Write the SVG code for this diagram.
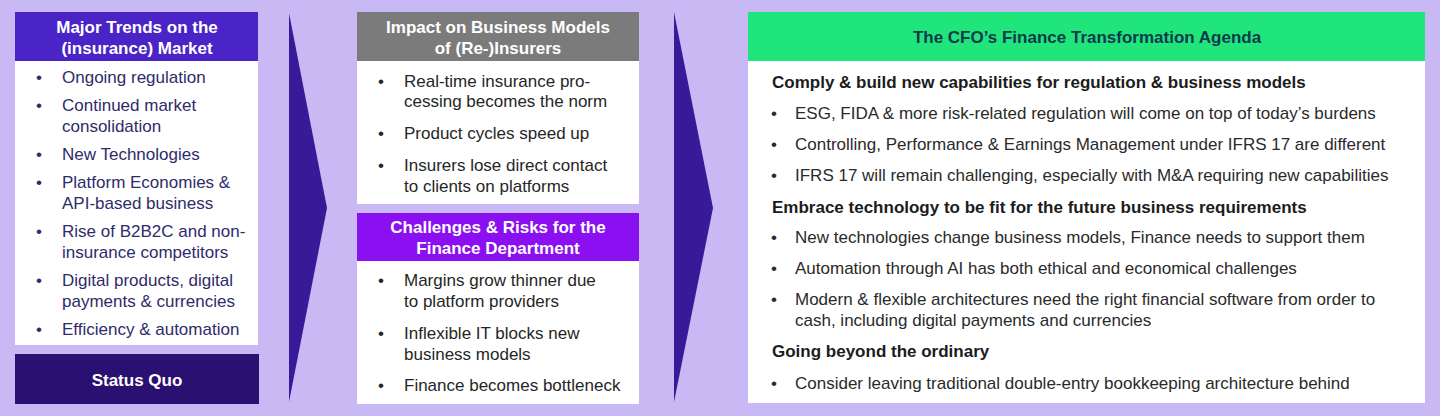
<svg xmlns="http://www.w3.org/2000/svg" width="1440" height="416" viewBox="0 0 1440 416">
<style>
text { font-family: "Liberation Sans", Arial, sans-serif; font-size: 17px; }
.hd { font-weight: bold; fill: #ffffff; text-anchor: middle; }
.lt { fill: #2f2b6b; }
.mt { fill: #262626; }
.rt { fill: #2a2a2a; }
.rh { fill: #1c1c1c; font-weight: bold; }
.body { fill: #ffffff; }
</style>
<rect x="0" y="0" width="1440" height="416" fill="#c8b9f4"/>

<g id="trends">
  <rect x="15" y="12" width="243" height="49" fill="#4a24c6"/>
  <text class="hd" x="137" y="32.5">Major Trends on the</text>
  <text class="hd" x="137" y="53.5">(insurance) Market</text>
  <rect class="body" x="15" y="61" width="243" height="284"/>
  <g class="lt">
    <text x="36" y="83">•</text><text x="62" y="83">Ongoing regulation</text>
    <text x="36" y="111">•</text><text x="62" y="111">Continued market</text>
    <text x="62" y="132">consolidation</text>
    <text x="36" y="160">•</text><text x="62" y="160">New Technologies</text>
    <text x="36" y="188">•</text><text x="62" y="188">Platform Economies &amp;</text>
    <text x="62" y="209">API-based business</text>
    <text x="36" y="237">•</text><text x="62" y="237">Rise of B2B2C and non-</text>
    <text x="62" y="258">insurance competitors</text>
    <text x="36" y="286">•</text><text x="62" y="286">Digital products, digital</text>
    <text x="62" y="307">payments &amp; currencies</text>
    <text x="36" y="335">•</text><text x="62" y="335">Efficiency &amp; automation</text>
  </g>
</g>

<g id="status-quo">
  <rect x="15" y="354" width="244" height="50" fill="#2a1070"/>
  <text class="hd" x="137" y="386">Status Quo</text>
</g>

<g id="impact">
  <rect x="357" y="12" width="282" height="49" fill="#7b7b7b"/>
  <text class="hd" x="498" y="32.5">Impact on Business Models</text>
  <text class="hd" x="498" y="53.5">of (Re-)Insurers</text>
  <rect class="body" x="357" y="61" width="282" height="143"/>
  <g class="mt">
    <text x="378" y="87">•</text><text x="404" y="87">Real-time insurance pro-</text>
    <text x="404" y="107">cessing becomes the norm</text>
    <text x="378" y="139">•</text><text x="404" y="139">Product cycles speed up</text>
    <text x="378" y="171">•</text><text x="404" y="171">Insurers lose direct contact</text>
    <text x="404" y="192">to clients on platforms</text>
  </g>
</g>

<g id="challenges">
  <rect x="357" y="213" width="282" height="48" fill="#8a10f2"/>
  <text class="hd" x="498" y="233">Challenges &amp; Risks for the</text>
  <text class="hd" x="498" y="253.5">Finance Department</text>
  <rect class="body" x="357" y="261" width="282" height="143"/>
  <g class="mt">
    <text x="378" y="286">•</text><text x="404" y="286">Margins grow thinner due</text>
    <text x="404" y="307">to platform providers</text>
    <text x="378" y="339">•</text><text x="404" y="339">Inflexible IT blocks new</text>
    <text x="404" y="360">business models</text>
    <text x="378" y="391">•</text><text x="404" y="391">Finance becomes bottleneck</text>
  </g>
</g>

<g id="agenda">
  <rect x="748" y="12" width="677" height="49" fill="#20e57a"/>
  <text x="1087" y="43" text-anchor="middle" font-weight="bold" font-size="16.5" fill="#0e3a4e">The CFO’s Finance Transformation Agenda</text>
  <rect class="body" x="748" y="61" width="677" height="342"/>
  <text class="rh" x="772" y="87.5">Comply &amp; build new capabilities for regulation &amp; business models</text>
  <g class="rt">
    <text x="771" y="119">•</text><text x="795" y="119">ESG, FIDA &amp; more risk-related regulation will come on top of today’s burdens</text>
    <text x="771" y="150">•</text><text x="795" y="150">Controlling, Performance &amp; Earnings Management under IFRS 17 are different</text>
    <text x="771" y="181">•</text><text x="795" y="181">IFRS 17 will remain challenging, especially with M&amp;A requiring new capabilities</text>
  </g>
  <text class="rh" x="772" y="212.5">Embrace technology to be fit for the future business requirements</text>
  <g class="rt">
    <text x="771" y="243">•</text><text x="795" y="243">New technologies change business models, Finance needs to support them</text>
    <text x="771" y="274">•</text><text x="795" y="274">Automation through AI has both ethical and economical challenges</text>
    <text x="771" y="305">•</text><text x="795" y="305">Modern &amp; flexible architectures need the right financial software from order to</text>
    <text x="795" y="326">cash, including digital payments and currencies</text>
  </g>
  <text class="rh" x="772" y="357">Going beyond the ordinary</text>
  <g class="rt">
    <text x="771" y="388.5">•</text><text x="795" y="388.5">Consider leaving traditional double-entry bookkeeping architecture behind</text>
  </g>
</g>

<g id="connectors" fill="#381a98">
  <polygon points="289,13 327,208 289,402"/>
  <polygon points="674,12 713,208 674,402"/>
</g>
</svg>
